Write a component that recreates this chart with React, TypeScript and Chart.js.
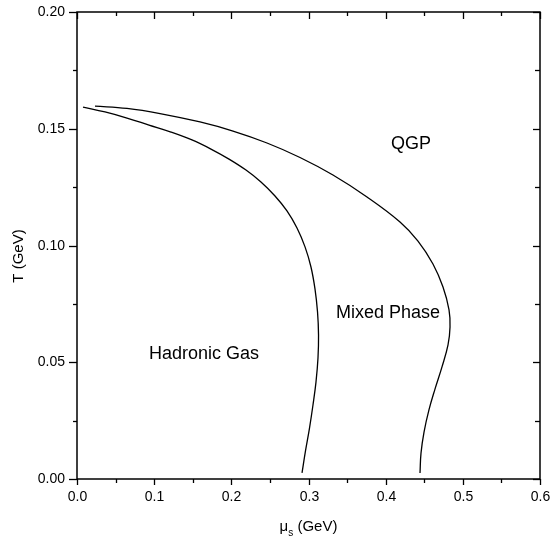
import React, { useEffect, useRef } from 'react';
import { Chart, registerables } from 'chart.js';

Chart.register(...registerables);

// Hadronic gas / mixed phase boundary
const hadronicBoundaryMu = [0.0078, 0.0363, 0.0648, 0.0933, 0.1218, 0.1490, 0.1736, 0.1970, 0.2190, 0.2384, 0.2566, 0.2721, 0.2851, 0.2955, 0.3032, 0.3084, 0.3117, 0.3130, 0.3123, 0.3097, 0.3058, 0.3013, 0.2961, 0.2916];
const hadronicBoundaryT = [0.1593, 0.1572, 0.1546, 0.1516, 0.1486, 0.1452, 0.1413, 0.1370, 0.1323, 0.1272, 0.1212, 0.1148, 0.1075, 0.0994, 0.0908, 0.0814, 0.0715, 0.0617, 0.0518, 0.0415, 0.0317, 0.0218, 0.0120, 0.0026];

// Mixed phase / QGP boundary
const qgpBoundaryMu = [0.0233, 0.0648, 0.1076, 0.1594, 0.2022, 0.2462, 0.2890, 0.3317, 0.3758, 0.4186, 0.4419, 0.4613, 0.4743, 0.4821, 0.4834, 0.4808, 0.4730, 0.4639, 0.4561, 0.4497, 0.4458, 0.4445];
const qgpBoundaryT = [0.1597, 0.1587, 0.1565, 0.1529, 0.1490, 0.1439, 0.1377, 0.1302, 0.1208, 0.1101, 0.1019, 0.0921, 0.0822, 0.0724, 0.0651, 0.0574, 0.0480, 0.0385, 0.0296, 0.0201, 0.0111, 0.0026];

const xTickLabels = ['0.0', '0.1', '0.2', '0.3', '0.4', '0.5', '0.6'];
const xMinorTicks = [0.05, 0.15, 0.25, 0.35, 0.45, 0.55];
const yTickLabels = ['0.00', '0.05', '0.10', '0.15', '0.20'];
const yMinorTicks = [0.025, 0.075, 0.125, 0.175];

const regionNames = ['QGP', 'Mixed Phase', 'Hadronic Gas'];
const regionMu = [0.4328, 0.403, 0.1646];
const regionT = [0.1435, 0.0711, 0.0535];

const FONT = '"Liberation Sans", Arial, Helvetica, sans-serif';

const axesPlugin = {
  id: 'originAxes',
  afterDraw(chart: any) {
    const ctx = chart.ctx;
    const a = chart.chartArea;
    const xs = chart.scales.x;
    const ys = chart.scales.y;
    ctx.save();
    ctx.strokeStyle = '#000';
    ctx.fillStyle = '#000';
    ctx.lineWidth = 1.5;
    ctx.strokeRect(a.left, a.top, a.right - a.left, a.bottom - a.top);

    ctx.lineWidth = 1.3;
    const line = (x1: number, y1: number, x2: number, y2: number) => {
      ctx.beginPath();
      ctx.moveTo(x1, y1);
      ctx.lineTo(x2, y2);
      ctx.stroke();
    };

    // x ticks
    ctx.font = `14px ${FONT}`;
    ctx.textAlign = 'center';
    ctx.textBaseline = 'middle';
    xTickLabels.forEach((lbl) => {
      const px = Math.round(xs.getPixelForValue(parseFloat(lbl))) + 0.5;
      line(px, a.bottom, px, a.bottom + 6);
      line(px, a.top, px, a.top + 7);
      ctx.fillText(lbl, px, a.bottom + 18);
    });
    xMinorTicks.forEach((v) => {
      const px = Math.round(xs.getPixelForValue(v)) + 0.5;
      line(px, a.bottom, px, a.bottom + 4);
      line(px, a.top, px, a.top + 4);
    });

    // y ticks
    ctx.textAlign = 'right';
    yTickLabels.forEach((lbl) => {
      const py = Math.round(ys.getPixelForValue(parseFloat(lbl))) + 0.5;
      line(a.left - 8, py, a.left, py);
      line(a.right - 7, py, a.right, py);
      ctx.fillText(lbl, a.left - 12, py);
    });
    yMinorTicks.forEach((v) => {
      const py = Math.round(ys.getPixelForValue(v)) + 0.5;
      line(a.left - 4, py, a.left, py);
      line(a.right - 5, py, a.right, py);
    });

    // axis titles
    ctx.save();
    ctx.translate(19, 256);
    ctx.rotate(-Math.PI / 2);
    ctx.textAlign = 'center';
    ctx.textBaseline = 'middle';
    ctx.font = `15px ${FONT}`;
    ctx.fillText('T (GeV)', 0, 0);
    ctx.restore();

    ctx.textBaseline = 'alphabetic';
    ctx.textAlign = 'left';
    ctx.font = `15px ${FONT}`;
    const muW = ctx.measureText('\u03bc').width;
    const restW = ctx.measureText(' (GeV)').width;
    ctx.font = `10px ${FONT}`;
    const sW = ctx.measureText('s').width;
    const total = muW + sW + restW;
    const cx = (a.left + a.right) / 2;
    let tx = cx - total / 2;
    const base = 531;
    ctx.font = `15px ${FONT}`;
    ctx.fillText('\u03bc', tx, base);
    tx += muW;
    ctx.font = `10px ${FONT}`;
    ctx.fillText('s', tx, base + 5);
    tx += sW;
    ctx.font = `15px ${FONT}`;
    ctx.fillText(' (GeV)', tx, base);

    // region labels
    ctx.font = `18px ${FONT}`;
    ctx.textAlign = 'center';
    ctx.textBaseline = 'middle';
    regionNames.forEach((name, i) => {
      ctx.fillText(name, xs.getPixelForValue(regionMu[i]), ys.getPixelForValue(regionT[i]));
    });
    ctx.restore();
  },
};

export default function App() {
  const ref = useRef<HTMLCanvasElement | null>(null);
  useEffect(() => {
    if (!ref.current) return;
    const chart = new Chart(ref.current, {
      type: 'scatter',
      data: {
        datasets: [
          {
            data: hadronicBoundaryMu.map((x, i) => ({ x, y: hadronicBoundaryT[i] })),
            showLine: true,
            borderColor: '#000',
            borderWidth: 1.3,
            pointRadius: 0,
            tension: 0.4,
            fill: false,
          },
          {
            data: qgpBoundaryMu.map((x, i) => ({ x, y: qgpBoundaryT[i] })),
            showLine: true,
            borderColor: '#000',
            borderWidth: 1.3,
            pointRadius: 0,
            tension: 0.4,
            fill: false,
          },
        ],
      },
      options: {
        animation: false,
        responsive: false,
        devicePixelRatio: 1,
        layout: { padding: { left: 77, right: 10, top: 12, bottom: 63 } },
        plugins: { legend: { display: false }, tooltip: { enabled: false } },
        events: [],
        scales: {
          x: { type: 'linear', min: 0, max: 0.6, display: false },
          y: { type: 'linear', min: 0, max: 0.2, display: false },
        },
      },
      plugins: [axesPlugin],
    });
    return () => chart.destroy();
  }, []);
  return (
    <div style={{ position: 'fixed', left: 0, top: 0, width: 550, height: 542, background: '#fff' }}>
      <canvas ref={ref} width={550} height={542} style={{ display: 'block' }} />
    </div>
  );
}
